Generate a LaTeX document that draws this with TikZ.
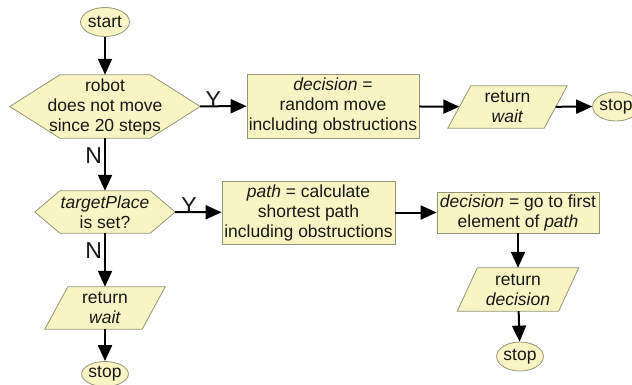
\documentclass[tikz,border=0pt]{standalone}
\usepackage{fontspec}
\setmainfont{Liberation Sans}
\usetikzlibrary{arrows.meta,shapes.geometric,backgrounds}
\definecolor{fillc}{RGB}{248,244,196}
\definecolor{edgec}{RGB}{150,150,118}
\definecolor{txtc}{RGB}{25,25,25}
\tikzset{
  every node/.style={text=txtc},
  body/.style={font=\fontsize{17.5}{20}\selectfont, align=center, inner sep=0pt},
  shapeline/.style={draw=edgec, fill=fillc, line width=0.8pt},
  procbox/.style={body, shapeline, rectangle},
  term/.style={body, shapeline, ellipse, minimum height=29pt},
  plain/.style={body},
  arr/.style={draw=black, line width=2pt, -{Triangle[length=16pt,width=14pt]}},
  yn/.style={font=\fontsize{23}{26}\selectfont, inner sep=0pt}
}
\begin{document}
\begin{tikzpicture}[x=1pt,y=-1pt]
\useasboundingbox (0,0) rectangle (632,385);
% nodes
\node[term, minimum width=49pt] (start) at (105,22) {start};
\node[plain, minimum width=190pt, minimum height=63pt] (h1) at (105,106.5) {robot\\does not move\\since 20 steps};
\node[procbox, minimum width=172pt, minimum height=64pt] (b1) at (333,106) {\textit{decision} =\\random move\\including obstructions};
\node[plain, minimum width=96pt, minimum height=42pt] (p1) at (507.5,107) {return\\\textit{wait}};
\node[term, minimum width=46pt] (s1) at (616,106.5) {stop};
\node[plain, minimum width=140pt, minimum height=42pt] (h2) at (105,212) {\textit{targetPlace}\\is set?};
\node[procbox, minimum width=173pt, minimum height=63pt] (b2) at (308.5,212.5) {\textit{path} = calculate\\shortest path\\including obstructions};
\node[procbox, minimum width=162pt, minimum height=41pt] (b3) at (518,212.5) {\textit{decision} = go to first\\element of \textit{path}};
\node[plain, minimum width=101pt, minimum height=43pt] (p2) at (518,289.5) {return\\\textit{decision}};
\node[term, minimum width=42pt] (s2) at (520,356.5) {stop};
\node[plain, minimum width=97pt, minimum height=42pt] (p3) at (105,308) {return\\\textit{wait}};
\node[term, minimum width=46pt, minimum height=25pt] (s3) at (105,374) {stop};
% shapes behind text
\begin{pgfonlayer}{background}
\draw[shapeline] (h1.west) -- ([xshift=50pt]h1.north west) -- ([xshift=-50pt]h1.north east) -- (h1.east) -- ([xshift=-50pt]h1.south east) -- ([xshift=50pt]h1.south west) -- cycle;
\draw[shapeline] (h2.west) -- ([xshift=25pt]h2.north west) -- ([xshift=-25pt]h2.north east) -- (h2.east) -- ([xshift=-25pt]h2.south east) -- ([xshift=25pt]h2.south west) -- cycle;
\draw[shapeline] ([xshift=11.5pt]p1.north west) -- ([xshift=11.5pt]p1.north east) -- ([xshift=-11.5pt]p1.south east) -- ([xshift=-11.5pt]p1.south west) -- cycle;
\draw[shapeline] ([xshift=10pt]p2.north west) -- ([xshift=10pt]p2.north east) -- ([xshift=-10pt]p2.south east) -- ([xshift=-10pt]p2.south west) -- cycle;
\draw[shapeline] ([xshift=11.5pt]p3.north west) -- ([xshift=11.5pt]p3.north east) -- ([xshift=-11.5pt]p3.south east) -- ([xshift=-11.5pt]p3.south west) -- cycle;
\end{pgfonlayer}
% connectors
\draw[arr] (start) -- (h1);
\draw[arr] (h1) -- node[yn, above, pos=0.28, yshift=-2pt] (y1) {Y} (b1);
\draw[arr] (b1) -- (p1);
\draw[arr] (p1) -- (s1);
\draw[arr] (h1) -- node[yn, left, pos=0.33, xshift=-2pt] (n1) {N} (h2);
\draw[arr] (h2) -- node[yn, above, pos=0.3, yshift=-2pt] (y2) {Y} (b2);
\draw[arr] (b2) -- (b3);
\draw[arr] (b3) -- (p2);
\draw[arr] (p2) -- (s2);
\draw[arr] (h2) -- node[yn, left, pos=0.33, xshift=-2pt] (n2) {N} (p3);
\draw[arr] (p3) -- (s3);
\end{tikzpicture}
\end{document}
